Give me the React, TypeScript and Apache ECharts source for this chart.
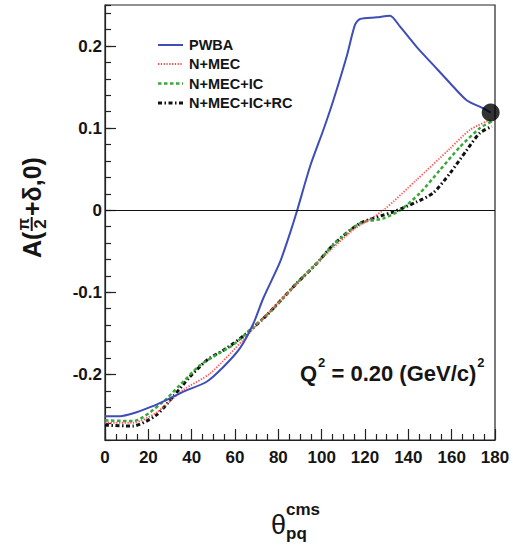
import React, { useEffect, useRef } from "react";
import * as echarts from "echarts";

// ---- data ----
const pwbaX = [0, 6.9, 13.1, 20.8, 28.5, 36.2, 46.9, 54.6, 62.3, 68.5, 73.1, 80.8, 85.4, 88.5, 94.6, 100.8, 105.4, 111.5, 115.4, 117.7, 125.4, 131.5, 136.2, 143.8, 151.5, 159.2, 166.9, 174.6, 178];
const pwbaY = [-0.251, -0.251, -0.2475, -0.24, -0.231, -0.221, -0.209, -0.191, -0.168, -0.138, -0.107, -0.063, -0.028, -0.002, 0.053, 0.098, 0.134, 0.187, 0.226, 0.233, 0.235, 0.237, 0.2236, 0.199, 0.177, 0.155, 0.134, 0.124, 0.119];

const mecX = [0, 12.8, 23.5, 36.1, 48.5, 63.8, 70, 88.5, 99.2, 114.6, 128.5, 143.8, 159.2, 168.5, 177.7];
const mecY = [-0.259, -0.259, -0.247, -0.219, -0.199, -0.158, -0.14, -0.089, -0.0607, -0.024, 0.0, 0.037, 0.075, 0.098, 0.11];

const icX = [0, 12.8, 26.2, 34.6, 43.8, 51.5, 59.2, 66.9, 77.7, 88.5, 97.7, 105.4, 117.7, 128.5, 136.2, 145.4, 154.6, 163.8, 173, 178.5];
const icY = [-0.256, -0.257, -0.235, -0.213, -0.189, -0.176, -0.164, -0.146, -0.12, -0.089, -0.065, -0.042, -0.016, -0.01, 0.0, 0.021, 0.049, 0.077, 0.1, 0.108];

const rcX = [0, 12.8, 23.5, 31.5, 39.2, 46.9, 56.2, 65.4, 74.6, 88.5, 97.7, 105.4, 117.7, 133.1, 143.8, 151.5, 159.2, 166.9, 173, 178.5];
const rcY = [-0.262, -0.263, -0.25, -0.227, -0.203, -0.183, -0.168, -0.15, -0.128, -0.089, -0.065, -0.042, -0.016, -0.002, 0.01, 0.021, 0.045, 0.073, 0.094, 0.102];

const endPoint = [178, 0.119];

const xTicks = [0, 20, 40, 60, 80, 100, 120, 140, 160, 180];
const yMajorTicks = [-0.2, -0.1, 0, 0.1, 0.2];

const legendNames = ["PWBA", "N+MEC", "N+MEC+IC", "N+MEC+IC+RC"];

const FONT = '"Liberation Sans", Arial, Helvetica, sans-serif';

function pairs(xs: number[], ys: number[]) {
  return xs.map((x, i) => [x, ys[i]]);
}

export default function App() {
  const ref = useRef<HTMLDivElement>(null);

  useEffect(() => {
    if (!ref.current) return;
    const chart = echarts.init(ref.current, undefined, { renderer: "svg" });

    const styles = [
      { color: "#3e4db8", type: "solid" as any, width: 2 },
      { color: "#ff5050", type: [1.3, 1.5] as any, width: 1.8 },
      { color: "#3aa83a", type: [3.5, 2.5] as any, width: 2.5 },
      { color: "#111111", type: [4, 2.5, 1.5, 2.5] as any, width: 3 },
    ];
    const datasets = [
      pairs(pwbaX, pwbaY),
      pairs(mecX, mecY),
      pairs(icX, icY),
      pairs(rcX, rcY),
    ];

    const legendRows = [45, 64, 83.5, 103];
    const legendGraphics: any[] = [];
    legendNames.forEach((name, i) => {
      legendGraphics.push({
        type: "line",
        shape: { x1: 158, y1: legendRows[i], x2: 183, y2: legendRows[i] },
        style: { stroke: styles[i].color, lineWidth: styles[i].width, lineDash: styles[i].type === "solid" ? null : styles[i].type },
      });
      legendGraphics.push({
        type: "text",
        x: 189,
        y: legendRows[i],
        style: { text: name, font: `bold 14.5px ${FONT}`, fill: "#151515", textAlign: "left", textVerticalAlign: "middle", align: "left", verticalAlign: "middle" },
      });
    });

    const txt = (text: string, x: number, y: number, font: string, align = "left") => ({
      type: "text",
      x,
      y,
      style: { text, font, fill: "#151515", textAlign: align, textVerticalAlign: "middle", align, verticalAlign: "middle" },
    });

    const option: any = {
      animation: false,
      backgroundColor: "#ffffff",
      grid: { left: 105, right: 18, top: 5, bottom: 108, show: true, borderColor: "#222", borderWidth: 1.2, containLabel: false },
      xAxis: {
        type: "value",
        min: xTicks[0],
        max: xTicks[xTicks.length - 1],
        interval: 20,
        axisLine: { show: true, onZero: false, lineStyle: { color: "#222", width: 1.2 } },
        axisTick: { show: true, inside: true, length: 11, lineStyle: { color: "#222", width: 1.2 } },
        minorTick: { show: true, splitNumber: 4, length: 6, lineStyle: { color: "#222", width: 1.2 } },
        splitLine: { show: false },
        axisLabel: { fontFamily: FONT, fontWeight: "bold", fontSize: 17, color: "#151515", margin: 9 },
      },
      yAxis: [
        {
          type: "value",
          min: -0.28,
          max: 0.25,
          interval: 0.02,
          axisLine: { show: true, onZero: false, lineStyle: { color: "#222", width: 1.2 } },
          axisTick: { show: true, inside: true, length: 6, lineStyle: { color: "#222", width: 1.2 } },
          axisLabel: { show: false },
          splitLine: { show: false },
        },
        {
          type: "value",
          min: -0.28,
          max: 0.25,
          position: "left",
          offset: 0,
          axisLine: { show: false, onZero: false },
          axisTick: { show: true, inside: true, length: 11, customValues: yMajorTicks, lineStyle: { color: "#222", width: 1.2 } },
          axisLabel: {
            show: true,
            customValues: yMajorTicks,
            margin: 3,
            fontFamily: FONT,
            fontWeight: "bold",
            fontSize: 17,
            color: "#151515",
            formatter: (v: number) => (Math.abs(v) < 1e-9 ? "0" : v.toFixed(1)),
          },
          splitLine: { show: false },
        },
      ],
      series: [
        ...datasets.map((d, i) => ({
          type: "line",
          name: legendNames[i],
          data: d,
          xAxisIndex: 0,
          yAxisIndex: 0,
          showSymbol: false,
          symbol: "none",
          smooth: 0.25,
          lineStyle: { color: styles[i].color, width: styles[i].width, type: styles[i].type },
          z: 4 - i,
          ...(i === 0
            ? {
                markLine: {
                  silent: true,
                  symbol: ["none", "none"],
                  label: { show: false },
                  lineStyle: { color: "#111", width: 1, type: "solid" },
                  data: [{ yAxis: 0 }],
                },
              }
            : {}),
        })),
        {
          type: "scatter",
          data: [endPoint],
          symbolSize: 18,
          itemStyle: { color: "#000" },
          z: 10,
        },
      ],
      graphic: [
        ...legendGraphics,
        // y axis title A(pi/2 + delta, 0)
        {
          type: "group",
          x: 31.7,
          y: 258,
          rotation: Math.PI / 2,
          children: [
            txt("A(", 0, 0, `bold 25px ${FONT}`),
            txt("π", 34, -8.5, `bold 16px ${FONT}`, "center"),
            { type: "line", shape: { x1: 27, y1: 0, x2: 41, y2: 0 }, style: { stroke: "#151515", lineWidth: 2 } },
            txt("2", 34, 9, `bold 17px ${FONT}`, "center"),
            txt("+δ,0)", 42, 0, `bold 25px ${FONT}`),
          ],
        },
        // x axis title theta_pq^cms
        txt("θ", 271, 525, `27px ${FONT}`),
        txt("cms", 286, 509.5, `bold 17px ${FONT}`),
        txt("pq", 286, 533, `bold 17px ${FONT}`),
        // Q^2 annotation (rich text so superscripts follow the text flow)
        {
          type: "text",
          x: 300,
          y: 370,
          style: {
            text: "{b|Q}{s|2}{b| = 0.20 (GeV/c)}{s|2}",
            fill: "#151515",
            textAlign: "left",
            textVerticalAlign: "middle",
            align: "left",
            verticalAlign: "middle",
            rich: {
              b: { font: `bold 22px ${FONT}`, fill: "#151515", lineHeight: 28, verticalAlign: "bottom" },
              s: { font: `bold 13px ${FONT}`, fill: "#151515", lineHeight: 28, verticalAlign: "top", padding: [0, 0, 0, 1] },
            },
          },
        },
      ],
    };

    chart.setOption(option);
    return () => chart.dispose();
  }, []);

  return <div ref={ref} style={{ position: "fixed", left: 0, top: 0, width: 513, height: 548, background: "#fff" }} />;
}
